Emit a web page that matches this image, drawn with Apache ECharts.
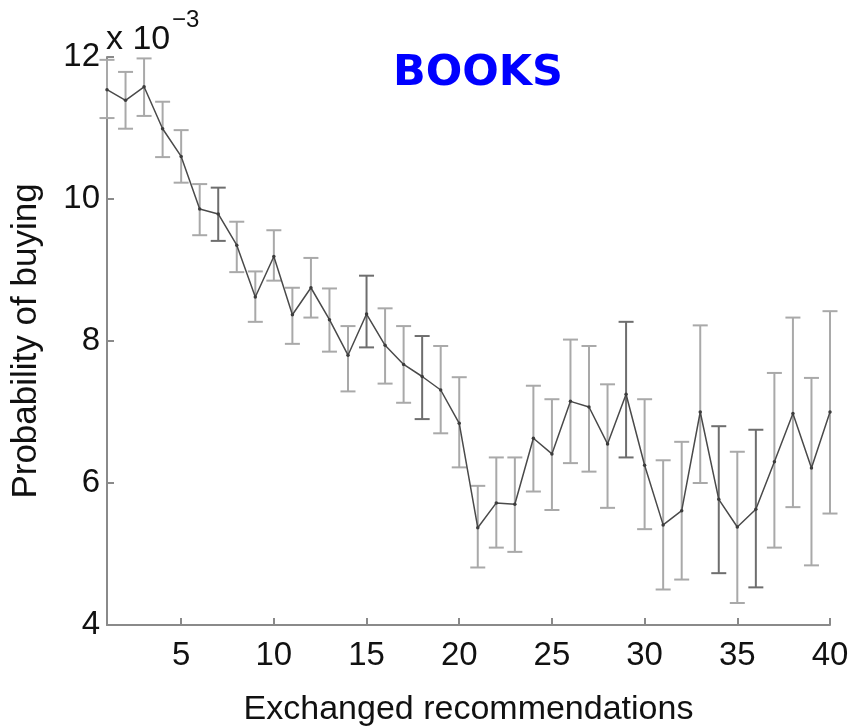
<!DOCTYPE html>
<html>
<head>
<meta charset="utf-8">
<title>BOOKS – probability of buying</title>
<script src="https://cdn.jsdelivr.net/npm/echarts@6/dist/echarts.min.js"></script>
<style>
  html, body { margin: 0; padding: 0; background: #ffffff; }
  #chart { width: 855px; height: 728px; }
</style>
</head>
<body>
<div id="chart"></div>
<script>
// Number of exchanged recommendations
const recommendations = [1, 2, 3, 4, 5, 6, 7, 8, 9, 10,
  11, 12, 13, 14, 15, 16, 17, 18, 19, 20,
  21, 22, 23, 24, 25, 26, 27, 28, 29, 30,
  31, 32, 33, 34, 35, 36, 37, 38, 39, 40];

// Mean probability of buying (x 10^-3)
const probability = [11.54, 11.39, 11.58, 10.99, 10.60, 9.86, 9.79, 9.35, 8.62, 9.19,
  8.37, 8.75, 8.30, 7.80, 8.38, 7.94, 7.67, 7.50, 7.31, 6.84,
  5.37, 5.72, 5.70, 6.63, 6.41, 7.15, 7.07, 6.55, 7.25, 6.25,
  5.41, 5.61, 7.00, 5.77, 5.38, 5.63, 6.30, 6.98, 6.21, 7.00];

// Error bar limits (x 10^-3)
const upper = [11.96, 11.79, 11.98, 11.37, 10.97, 10.21, 10.16, 9.68, 8.98, 9.56,
  8.75, 9.17, 8.74, 8.21, 8.92, 8.46, 8.21, 8.07, 7.93, 7.49,
  5.96, 6.36, 6.36, 7.37, 7.18, 8.02, 7.93, 7.39, 8.27, 7.18,
  6.32, 6.58, 8.22, 6.80, 6.44, 6.75, 7.55, 8.33, 7.48, 8.42];
const lower = [11.14, 10.99, 11.17, 10.59, 10.23, 9.49, 9.41, 8.97, 8.27, 8.85,
  7.96, 8.33, 7.85, 7.29, 7.91, 7.40, 7.13, 6.90, 6.70, 6.22,
  4.81, 5.09, 5.03, 5.88, 5.62, 6.28, 6.16, 5.65, 6.36, 5.35,
  4.50, 4.64, 6.00, 4.73, 4.31, 4.53, 5.09, 5.66, 4.84, 5.57];

// Axis tick labels
const xTicks = [5, 10, 15, 20, 25, 30, 35, 40];
const yTicks = [4, 6, 8, 10, 12];

// A few bars are drawn a shade darker
const darkBars = new Set([7, 15, 18, 29, 34, 36]);

const lineData = recommendations.map((x, i) => [x, probability[i]]);
const barData = recommendations.map((x, i) => [x, upper[i], lower[i]]);

const FONT = '"Liberation Sans", Arial, Helvetica, sans-serif';
const chart = echarts.init(document.getElementById('chart'), null, { renderer: 'canvas' });

chart.setOption({
  backgroundColor: '#ffffff',
  animation: false,
  grid: { left: 107, right: 25, top: 57, bottom: 103, containLabel: false, outerBoundsMode: 'none' },
  xAxis: {
    type: 'value',
    min: 1,
    max: 40,
    name: 'Exchanged recommendations',
    nameLocation: 'middle',
    nameGap: 68,
    nameTextStyle: { fontFamily: FONT, fontSize: 34, color: '#111' },
    axisLine: { show: true, lineStyle: { color: '#8a8a8a', width: 2 } },
    axisTick: { show: true, inside: true, length: 7, customValues: xTicks,
                lineStyle: { color: '#8a8a8a', width: 2 } },
    axisLabel: { customValues: xTicks, margin: 14, fontFamily: FONT, fontSize: 33, color: '#111' },
    splitLine: { show: false }
  },
  yAxis: {
    type: 'value',
    min: 4,
    max: 12,
    name: 'Probability of buying',
    nameLocation: 'middle',
    nameGap: 63,
    nameRotate: 90,
    nameTextStyle: { fontFamily: FONT, fontSize: 35, color: '#111' },
    axisLine: { show: true, lineStyle: { color: '#8a8a8a', width: 2 } },
    axisTick: { show: true, inside: true, length: 7, customValues: yTicks,
                lineStyle: { color: '#8a8a8a', width: 2 } },
    axisLabel: { customValues: yTicks, margin: 7, fontFamily: FONT, fontSize: 33, color: '#111' },
    splitLine: { show: false }
  },
  graphic: [
    {
      type: 'text', x: 106, y: 23,
      style: { text: 'x 10', font: '34px ' + FONT, fill: '#111' }
    },
    {
      type: 'text', x: 172, y: 8,
      style: { text: '\u22123', font: '24px ' + FONT, fill: '#111' }
    },
    {
      type: 'text', x: 478, y: 74,
      style: {
        text: 'BOOKS', font: 'bold 43px "DejaVu Sans", Verdana, sans-serif',
        fill: '#0000ff', align: 'center', verticalAlign: 'middle'
      }
    }
  ],
  series: [
    {
      type: 'custom',
      name: 'error',
      data: barData,
      clip: false,
      z: 2,
      renderItem: function (params, api) {
        const x = api.value(0);
        const top = api.coord([x, api.value(1)]);
        const bot = api.coord([x, api.value(2)]);
        const hw = 7.5;
        const color = darkBars.has(x) ? '#6e6e6e' : '#a9a9a9';
        const style = { stroke: color, lineWidth: 2, fill: null };
        return {
          type: 'group',
          children: [
            { type: 'line', shape: { x1: top[0], y1: top[1], x2: bot[0], y2: bot[1] }, style: style },
            { type: 'line', shape: { x1: top[0] - hw, y1: top[1], x2: top[0] + hw, y2: top[1] }, style: style },
            { type: 'line', shape: { x1: bot[0] - hw, y1: bot[1], x2: bot[0] + hw, y2: bot[1] }, style: style }
          ]
        };
      }
    },
    {
      type: 'line',
      name: 'probability',
      data: lineData,
      z: 3,
      symbol: 'circle',
      symbolSize: 3.5,
      showSymbol: true,
      itemStyle: { color: '#3c3c3c' },
      lineStyle: { color: '#4a4a4a', width: 1.5 }
    }
  ]
});
</script>
</body>
</html>
